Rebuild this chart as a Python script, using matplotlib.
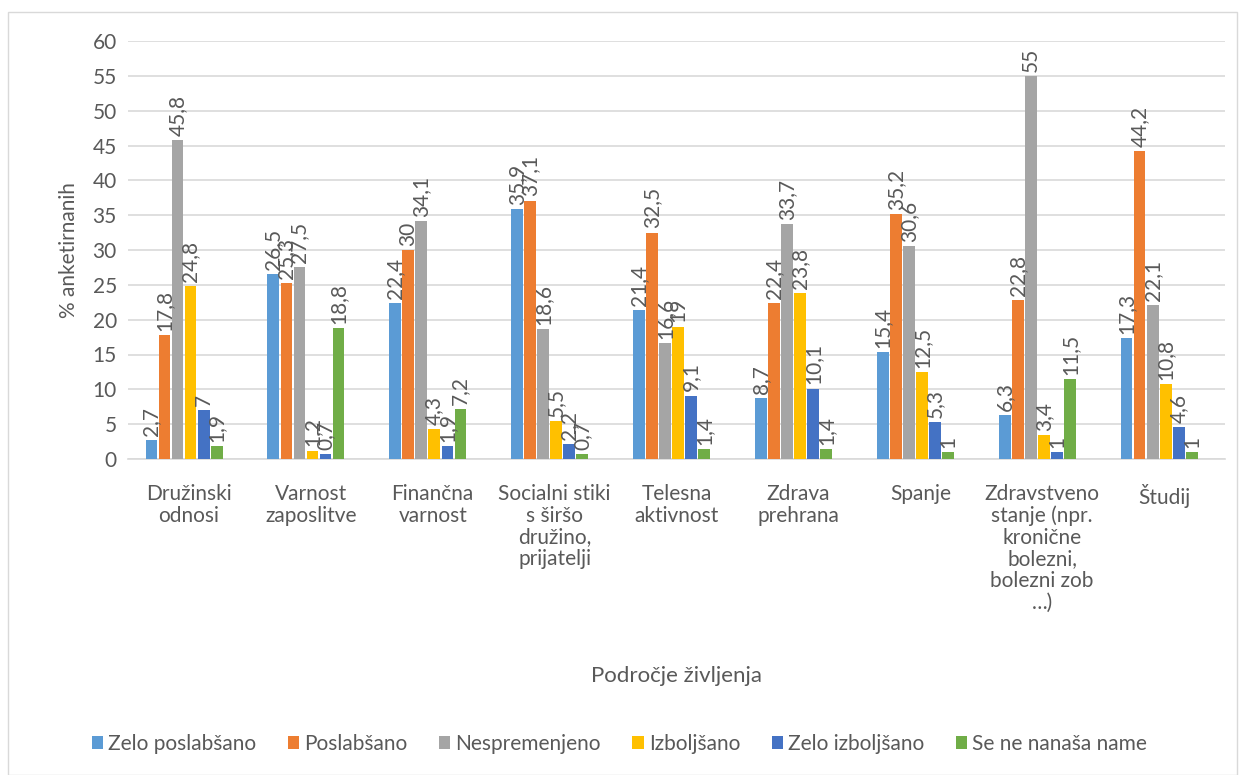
import numpy as np
import matplotlib.pyplot as plt
from matplotlib.patches import Rectangle

plt.rcParams['font.family'] = ['Lato', 'DejaVu Sans']

categories = ['Družinski\nodnosi', 'Varnost\nzaposlitve', 'Finančna\nvarnost',
              'Socialni stiki\ns širšo\ndružino,\nprijatelji', 'Telesna\naktivnost',
              'Zdrava\nprehrana', 'Spanje',
              'Zdravstveno\nstanje (npr.\nkronične\nbolezni,\nbolezni zob\n…)', 'Študij']
series = ['Zelo poslabšano', 'Poslabšano', 'Nespremenjeno', 'Izboljšano',
          'Zelo izboljšano', 'Se ne nanaša name']
zelo_poslabsano = [2.7, 26.5, 22.4, 35.9, 21.4, 8.7, 15.4, 6.3, 17.3]
poslabsano = [17.8, 25.3, 30, 37.1, 32.5, 22.4, 35.2, 22.8, 44.2]
nespremenjeno = [45.8, 27.5, 34.1, 18.6, 16.6, 33.7, 30.6, 55, 22.1]
izboljsano = [24.8, 1.2, 4.3, 5.5, 19, 23.8, 12.5, 3.4, 10.8]
zelo_izboljsano = [7, 0.7, 1.9, 2.2, 9.1, 10.1, 5.3, 1, 4.6]
ne_nanasa = [1.9, 18.8, 7.2, 0.7, 1.4, 1.4, 1, 11.5, 1]
values = [zelo_poslabsano, poslabsano, nespremenjeno, izboljsano, zelo_izboljsano, ne_nanasa]
colors = ['#5B9BD5', '#ED7D31', '#A5A5A5', '#FFC000', '#4472C4', '#70AD47']
txt = '#595959'

fig = plt.figure(figsize=(12.39, 7.75), dpi=100)
ax = fig.add_axes([128/1239, 1 - 459/775, (1225 - 128)/1239, (459 - 41)/775])
fig.patches.append(Rectangle((8/1239, 0), 1 - 8/1239 - 2/1239, 1 - 12/775, transform=fig.transFigure,
                             fill=False, edgecolor='#D9D9D9', lw=1))

x = np.arange(len(categories))
w = 0.107
for i, (name, vals, c) in enumerate(zip(series, values, colors)):
    pos = x + (i - 2.5) * w - 0.04
    ax.bar(pos, vals, width=w * 0.9, color=c, label=name, zorder=3)
    for p, v in zip(pos, vals):
        ax.annotate(f'{v:g}'.replace('.', ','), (p, v), xytext=(0, 3), textcoords='offset points',
                    rotation=90, ha='center', va='bottom', fontsize=15, color=txt, zorder=4)

ax.set_xlim(-0.5, len(categories) - 0.5)
ax.set_ylim(0, 60)
ax.set_yticks(range(0, 61, 5))
ax.grid(axis='y', color='#D9D9D9', lw=1.2, zorder=0)
for s in ['top', 'right', 'left']:
    ax.spines[s].set_visible(False)
ax.spines['bottom'].set_color('#D9D9D9')
ax.spines['bottom'].set_linewidth(1.2)
ax.tick_params(length=0, labelsize=15, colors=txt, pad=8)
ax.tick_params(axis='x', pad=18)
ax.set_xticks(x)
ax.set_xticklabels(categories, va='top', linespacing=1.1)
ax.set_ylabel('% anketirnanih', fontsize=15, color=txt, labelpad=10)
ax.set_xlabel('Področje življenja', fontsize=16, color=txt)
ax.xaxis.set_label_coords(0.5, -0.495)

leg = fig.legend(loc='center', bbox_to_anchor=(0.5, 1 - 744/775), ncol=6, frameon=False,
                 fontsize=15, handlelength=0.55, handleheight=0.55, handletextpad=0.25, columnspacing=1.5)
for t in leg.get_texts():
    t.set_color(txt)

fig.savefig('out.png', dpi=100)
